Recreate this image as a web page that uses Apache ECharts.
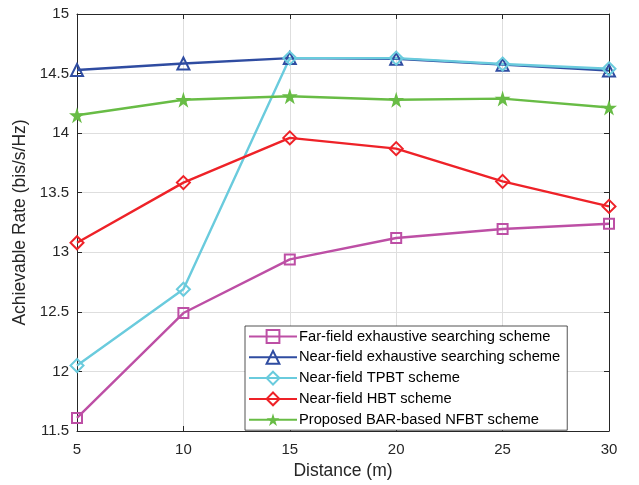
<!DOCTYPE html>
<html>
<head>
<meta charset="utf-8">
<script src="https://cdn.jsdelivr.net/npm/echarts@6/dist/echarts.min.js"></script>
<style>
  html, body { margin: 0; padding: 0; background: #fff; }
  #chart { width: 639px; height: 485px; }
</style>
</head>
<body>
<div id="chart"></div>
<script>
// Distance in metres
const distances = [5, 10, 15, 20, 25, 30];

// Achievable rate (bis/s/Hz) per scheme
const farFieldExhaustive = [11.61, 12.49, 12.94, 13.12, 13.195, 13.24];
const nearFieldExhaustive = [14.53, 14.585, 14.63, 14.625, 14.575, 14.525];
const nearFieldTPBT = [12.05, 12.69, 14.63, 14.63, 14.58, 14.54];
const nearFieldHBT = [13.08, 13.585, 13.96, 13.87, 13.595, 13.385];
const proposedNFBT = [14.15, 14.28, 14.31, 14.28, 14.29, 14.215];

const seriesNames = [
  'Far-field exhaustive searching scheme',
  'Near-field exhaustive searching scheme',
  'Near-field TPBT scheme',
  'Near-field HBT scheme',
  'Proposed BAR-based NFBT scheme'
];

const yTicks = { min: 11.5, max: 15, step: 0.5 };
const xTicks = { min: 5, max: 30, step: 5 };

const starPath = 'path://M50,0 L61.2,34.5 L97.6,34.5 L68.2,55.9 L79.4,90.5 L50,69.1 L20.6,90.5 L31.8,55.9 L2.4,34.5 L38.8,34.5 Z';

const font = 'Liberation Sans, Arial, Helvetica, sans-serif';
const axisColor = '#262626';

function pairs(values) {
  return distances.map((d, i) => [d, values[i]]);
}

function lineSeries(name, values, color, symbol, size, filled) {
  return {
    name: name,
    type: 'line',
    data: pairs(values),
    symbol: symbol,
    symbolSize: size,
    showAllSymbol: true,
    lineStyle: { color: color, width: 2.4 },
    itemStyle: {
      color: filled ? color : 'rgba(255,255,255,0)',
      borderColor: color,
      borderWidth: filled ? 0 : 2
    },
    emphasis: { disabled: true },
    animation: false
  };
}

const chart = echarts.init(document.getElementById('chart'), null, { renderer: 'canvas' });

const valueAxisCommon = {
  axisLine: { show: true, onZero: false, lineStyle: { color: axisColor, width: 1 } },
  axisTick: { show: true, inside: true, length: 5, lineStyle: { color: axisColor } }
};

chart.setOption({
  backgroundColor: '#ffffff',
  animation: false,
  grid: { left: 77, right: 30, top: 14, bottom: 53, show: false },
  legend: {
    orient: 'vertical',
    left: 245,
    top: 326,
    itemWidth: 48,
    itemHeight: 16,
    itemGap: 5.8,
    padding: [3, 7, 3, 3],
    backgroundColor: '#ffffff',
    borderColor: axisColor,
    borderWidth: 0.8,
    borderRadius: 0,
    textStyle: { fontFamily: font, fontSize: 14.7, color: '#000', padding: [0, 0, 0, -3] },
    data: seriesNames
  },
  xAxis: [
    Object.assign({
      type: 'value', min: xTicks.min, max: xTicks.max, interval: xTicks.step,
      name: 'Distance (m)', nameLocation: 'middle', nameGap: 31,
      nameTextStyle: { fontFamily: font, fontSize: 17.5, color: '#262626' },
      axisLabel: { fontFamily: font, fontSize: 15, color: '#262626', margin: 11 },
      splitLine: { show: true, lineStyle: { color: '#dedede', width: 1 } }
    }, valueAxisCommon),
    Object.assign({
      type: 'value', position: 'top', min: xTicks.min, max: xTicks.max, interval: xTicks.step,
      axisLabel: { show: false }, splitLine: { show: false }
    }, valueAxisCommon)
  ],
  yAxis: [
    Object.assign({
      type: 'value', min: yTicks.min, max: yTicks.max, interval: yTicks.step,
      name: 'Achievable Rate (bis/s/Hz)', nameLocation: 'middle', nameGap: 42,
      nameTextStyle: { fontFamily: font, fontSize: 17.5, color: '#262626' },
      axisLabel: { fontFamily: font, fontSize: 15, color: '#262626', margin: 8 },
      splitLine: { show: true, lineStyle: { color: '#dedede', width: 1 } }
    }, valueAxisCommon),
    Object.assign({
      type: 'value', position: 'right', min: yTicks.min, max: yTicks.max, interval: yTicks.step,
      axisLabel: { show: false }, splitLine: { show: false }
    }, valueAxisCommon)
  ],
  series: [
    lineSeries(seriesNames[0], farFieldExhaustive, '#BD4FA5', 'rect', 10, false),
    lineSeries(seriesNames[1], nearFieldExhaustive, '#2F4CA1', 'triangle', 12, false),
    lineSeries(seriesNames[2], nearFieldTPBT, '#6ACBDD', 'diamond', 13, false),
    lineSeries(seriesNames[3], nearFieldHBT, '#EE2228', 'diamond', 13, false),
    lineSeries(seriesNames[4], proposedNFBT, '#68BC45', starPath, 16, true)
  ]
});
</script>
</body>
</html>
